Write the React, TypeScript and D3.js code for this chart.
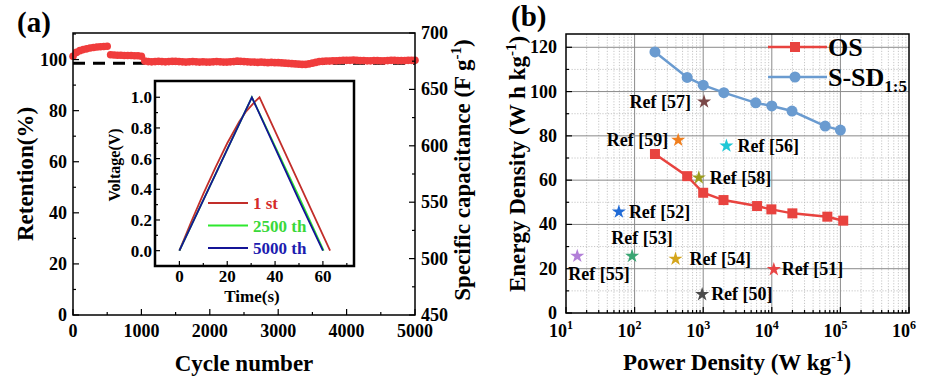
import * as d3 from "d3";

// ---- panel (a): cycling retention ----
const cycleNumbers = [
  0, 50, 100, 150, 200, 250, 300, 350, 400, 450, 500, 550, 600, 650, 700, 750, 800, 850, 900, 950,
  1000, 1050, 1100, 1150, 1200, 1250, 1300, 1350, 1400, 1450, 1500, 1550, 1600, 1650, 1700, 1750,
  1800, 1850, 1900, 1950, 2000, 2050, 2100, 2150, 2200, 2250, 2300, 2350, 2400, 2450, 2500, 2550,
  2600, 2650, 2700, 2750, 2800, 2850, 2900, 2950, 3000, 3050, 3100, 3150, 3200, 3250, 3300, 3350,
  3400, 3450, 3500, 3550, 3600, 3650, 3700, 3750, 3800, 3850, 3900, 3950, 4000, 4050, 4100, 4150,
  4200, 4250, 4300, 4350, 4400, 4450, 4500, 4550, 4600, 4650, 4700, 4750, 4800, 4850, 4900, 4950, 5000,
];
const retention = [
  101.3, 102.8, 103.5, 103.9, 104.2, 104.5, 104.7, 104.9, 105.0, 105.1, 105.2, 101.9, 101.8, 101.7,
  101.7, 101.6, 101.6, 101.6, 101.5, 101.5, 101.3, 99.4, 99.2, 99.1, 99.2, 99.3, 99.2, 99.1, 99.2,
  99.3, 99.3, 99.2, 99.1, 99.0, 99.1, 99.2, 99.1, 99.0, 99.1, 99.0, 99.0, 99.1, 99.2, 99.1, 99.0,
  99.0, 99.1, 99.2, 99.4, 99.3, 99.2, 99.1, 99.0, 99.0, 98.9, 99.0, 98.9, 98.8, 98.9, 98.8, 98.8,
  98.7, 98.6, 98.5, 98.4, 98.3, 98.2, 98.1, 98.1, 98.3, 98.6, 98.9, 99.2, 99.3, 99.4, 99.4, 99.5,
  99.5, 99.6, 99.7, 99.7, 99.7, 99.8, 99.7, 99.6, 99.6, 99.5, 99.5, 99.6, 99.6, 99.5, 99.5, 99.6,
  99.7, 99.7, 99.6, 99.6, 99.6, 99.7, 99.7, 99.7,
];
const retentionRef = 98.6;

// inset: galvanostatic charge/discharge
const gcdNames = ["1 st", "2500 th", "5000 th"];
const timeFirst = [0, 5, 10, 15, 20, 25, 28, 31.5, 33.5, 40, 50, 63];
const voltFirst = [0, 0.19, 0.37, 0.54, 0.7, 0.84, 0.91, 0.97, 1.0, 0.78, 0.44, 0];
const time2500 = [0, 10, 20, 30.3, 40, 50, 60.3];
const volt2500 = [0, 0.33, 0.66, 1.0, 0.68, 0.35, 0];
const time5000 = [0, 10, 20, 30.3, 40, 50, 60];
const volt5000 = [0, 0.33, 0.66, 1.0, 0.67, 0.33, 0];

// ---- panel (b): Ragone plot ----
const powerOS = [198, 584, 1000, 1977, 6100, 9860, 19950, 64500, 110000];
const energyOS = [71.8, 61.8, 54.3, 51.0, 48.3, 46.8, 45.0, 43.5, 41.7];
const powerSSD = [198, 584, 1000, 2000, 5830, 10000, 19700, 60000, 100000];
const energySSD = [117.9, 106.4, 102.9, 99.5, 94.9, 93.5, 91.2, 84.4, 82.6];
const refLabels = ["Ref [50]", "Ref [51]", "Ref [52]", "Ref [53]", "Ref [54]", "Ref [55]", "Ref [56]", "Ref [57]", "Ref [58]", "Ref [59]"];
const refPower = [965, 10700, 59, 92, 395, 14.6, 2180, 1030, 863, 432];
const refEnergy = [8.4, 19.7, 45.7, 25.7, 24.4, 25.7, 75.5, 95.4, 61.1, 78.1];

const FONT = '"Liberation Serif", "DejaVu Serif", serif';

const App = () => {
  // panel (a) frames
  const xA = d3.scaleLinear().domain([0, 5000]).range([73, 415]);
  const yA = d3.scaleLinear().domain([0, 110.4]).range([315, 33]);
  const yA2 = d3.scaleLinear().domain([450, 700]).range([315, 33]);
  // inset
  const xI = d3.scaleLinear().domain([-10.2, 73]).range([155, 354]);
  const yI = d3.scaleLinear().domain([-0.1, 1.106]).range([266, 81]);
  // panel (b)
  const xB = d3.scaleLog().domain([10, 1e6]).range([566, 909]);
  const yB = d3.scaleLinear().domain([0, 126]).range([313, 34]);

  const gcdSeries = [
    { t: timeFirst, v: voltFirst, line: "#c22e2a", text: "#d42a2a" },
    { t: time2500, v: volt2500, line: "#2ee82e", text: "#3ad83a" },
    { t: time5000, v: volt5000, line: "#141496", text: "#1c1cb0" },
  ];
  const gcdLine = d3.line<[number, number]>().x((d) => xI(d[0])).y((d) => yI(d[1]));

  const osLine = d3.line<number>().x((d, i) => xB(powerOS[i])).y((d) => yB(d));
  const ssdLine = d3.line<number>().x((d, i) => xB(powerSSD[i])).y((d) => yB(d));

  const starPath = d3.symbol().type(d3.symbolStar).size(62)() as string;
  const refColors = ["#4b4b4b", "#e84545", "#1f6ad6", "#3aa673", "#d4a51c", "#b27fd8", "#1fc8d6", "#7a4848", "#9c9c1e", "#f07f1e"];
  // label offsets [dx, dy, anchor] relative to each star
  const refPlace: [number, number, string][] = [
    [9, 6, "start"], [8, 6, "start"], [10, 6, "start"], [10, -12, "middle"], [14, 6, "start"],
    [-9, 24, "start"], [11, 6, "start"], [-13, 6, "end"], [11, 6, "start"], [-10, 6, "end"],
  ];

  const majorA = xA.ticks(5);
  const minorA = xA.ticks(10).filter((t) => !majorA.includes(t));
  const yMajorA = d3.range(0, 101, 20);
  const yMinorA = d3.range(10, 111, 20);
  const y2Major = yA2.ticks(5);
  const y2Minor = d3.range(475, 700, 50);

  const xBTicks = xB.ticks();
  const isDecade = (t: number) => Math.abs(Math.log10(t) - Math.round(Math.log10(t))) < 1e-6;
  const yBMajor = d3.range(0, 121, 20);
  const yBMinor = d3.range(10, 121, 20);

  return (
    <svg
      width={928}
      height={387}
      style={{ position: "absolute", left: 0, top: 0, background: "#fff", fontFamily: FONT, fontWeight: 700 }}
    >
      <rect width={928} height={387} fill="#fff" />

      {/* ================= panel (a) ================= */}
      <text x={17} y={32} fontSize={29}>(a)</text>

      {/* dashed reference and retention scatter */}
      <line x1={xA(0)} x2={xA(5000)} y1={yA(retentionRef)} y2={yA(retentionRef)} stroke="#000" strokeWidth={3} strokeDasharray="12,8" />
      <g fill="#f03c3c">
        {retention.map((r, i) => (
          <circle key={i} cx={xA(cycleNumbers[i])} cy={yA(r)} r={3.8} />
        ))}
      </g>
      <rect x={73} y={33} width={342} height={282} fill="none" stroke="#000" strokeWidth={1.5} />

      {/* ticks (inward) */}
      <g stroke="#000" strokeWidth={1.2}>
        {majorA.map((t) => <line key={"xm" + t} x1={xA(t)} x2={xA(t)} y1={315} y2={309} />)}
        {minorA.map((t) => <line key={"xn" + t} x1={xA(t)} x2={xA(t)} y1={315} y2={312} />)}
        {yMajorA.map((t) => <line key={"ym" + t} x1={73} x2={79} y1={yA(t)} y2={yA(t)} />)}
        {yMinorA.map((t) => <line key={"yn" + t} x1={73} x2={76} y1={yA(t)} y2={yA(t)} />)}
        {y2Major.map((t) => <line key={"rm" + t} x1={415} x2={409} y1={yA2(t)} y2={yA2(t)} />)}
        {y2Minor.map((t) => <line key={"rn" + t} x1={415} x2={412} y1={yA2(t)} y2={yA2(t)} />)}
      </g>
      <g fontSize={18} textAnchor="middle">
        {majorA.map((t) => <text key={t} x={xA(t)} y={337}>{t}</text>)}
      </g>
      <g fontSize={18} textAnchor="end">
        {yMajorA.map((t) => <text key={t} x={67} y={yA(t) + 6}>{t}</text>)}
      </g>
      <g fontSize={18} textAnchor="start">
        {y2Major.map((t) => <text key={t} x={421} y={yA2(t) + 6}>{t}</text>)}
      </g>
      <text x={244} y={371} fontSize={23} textAnchor="middle">Cycle number</text>
      <text transform="translate(33,174) rotate(-90)" fontSize={23} textAnchor="middle">Retention(%)</text>
      <text transform="translate(470,170) rotate(-90)" fontSize={23} textAnchor="middle">
        Specific capacitance (F g<tspan dy={-9} fontSize={15}>-1</tspan><tspan dy={9}>)</tspan>
      </text>

      {/* ---- inset ---- */}
      <rect x={155} y={81} width={199} height={185} fill="#fff" />
      {gcdSeries.map((s, k) => (
        <path
          key={k}
          d={gcdLine(s.t.map((t, i) => [t, s.v[i]] as [number, number])) as string}
          fill="none"
          stroke={s.line}
          strokeWidth={1.8}
        />
      ))}
      <rect x={155} y={81} width={199} height={185} fill="none" stroke="#000" strokeWidth={2.5} />
      <g stroke="#000" strokeWidth={1.2}>
        {d3.range(0, 61, 20).map((t) => <line key={"im" + t} x1={xI(t)} x2={xI(t)} y1={266} y2={261} />)}
        {d3.range(10, 71, 20).map((t) => <line key={"in" + t} x1={xI(t)} x2={xI(t)} y1={266} y2={263} />)}
        {d3.range(0, 1.01, 0.2).map((t) => <line key={"iym" + t} x1={155} x2={160} y1={yI(t)} y2={yI(t)} />)}
        {d3.range(0.1, 1.01, 0.2).map((t) => <line key={"iyn" + t} x1={155} x2={158} y1={yI(t)} y2={yI(t)} />)}
      </g>
      <g fontSize={17} textAnchor="middle">
        {d3.range(0, 61, 20).map((t) => <text key={t} x={xI(t)} y={282}>{t}</text>)}
      </g>
      <g fontSize={17} textAnchor="end">
        {d3.range(0, 1.01, 0.2).map((t) => <text key={t} x={152} y={yI(t) + 6}>{t.toFixed(1)}</text>)}
      </g>
      <text x={252} y={302} fontSize={17} textAnchor="middle">Time(s)</text>
      <text transform="translate(120,165) rotate(-90)" fontSize={16} textAnchor="middle">Voltage(V)</text>
      {gcdSeries.map((s, k) => (
        <g key={k}>
          <line x1={208} x2={248} y1={203 + k * 22.5} y2={203 + k * 22.5} stroke={s.line} strokeWidth={2.2} />
          <text x={253} y={209 + k * 22.5} fontSize={17} fill={s.text}>{gcdNames[k]}</text>
        </g>
      ))}

      {/* ================= panel (b) ================= */}
      <text x={511} y={26} fontSize={29}>(b)</text>

      {/* grid */}
      <g>
        {xBTicks.filter((t) => !isDecade(t)).map((t) => (
          <line key={"gv" + t} x1={xB(t)} x2={xB(t)} y1={34} y2={313} stroke="#b8b8b8" strokeWidth={0.8} strokeDasharray="1.2,1.6" />
        ))}
        {yBMinor.map((t) => (
          <line key={"gh" + t} x1={566} x2={909} y1={yB(t)} y2={yB(t)} stroke="#b8b8b8" strokeWidth={0.8} strokeDasharray="1.2,1.6" />
        ))}
        {xBTicks.filter((t) => isDecade(t) && t > 10 && t < 1e6).map((t) => (
          <line key={"GV" + t} x1={xB(t)} x2={xB(t)} y1={34} y2={313} stroke="#8a8a8a" strokeWidth={1} />
        ))}
        {yBMajor.filter((t) => t > 0).map((t) => (
          <line key={"GH" + t} x1={566} x2={909} y1={yB(t)} y2={yB(t)} stroke="#8a8a8a" strokeWidth={1} />
        ))}
      </g>

      {/* series */}
      <path d={osLine(energyOS) as string} fill="none" stroke="#e8433f" strokeWidth={2.5} />
      {energyOS.map((e, i) => (
        <rect key={i} x={xB(powerOS[i]) - 5} y={yB(e) - 5} width={10} height={10} fill="#e8433f" />
      ))}
      <path d={ssdLine(energySSD) as string} fill="none" stroke="#6a9bd0" strokeWidth={2.5} />
      {energySSD.map((e, i) => (
        <circle key={i} cx={xB(powerSSD[i])} cy={yB(e)} r={5.5} fill="#6a9bd0" />
      ))}

      {/* reference stars */}
      {refLabels.map((lab, i) => {
        const x = xB(refPower[i]);
        const y = yB(refEnergy[i]);
        const [dx, dy, anchor] = refPlace[i];
        return (
          <g key={lab}>
            <path d={starPath} transform={`translate(${x},${y})`} fill={refColors[i]} />
            <text x={x + dx} y={y + dy} fontSize={18} textAnchor={anchor}>{lab}</text>
          </g>
        );
      })}

      <rect x={566} y={34} width={343} height={279} fill="none" stroke="#000" strokeWidth={1.5} />
      <g stroke="#000" strokeWidth={1.2}>
        {xBTicks.map((t) => (
          <line key={"bt" + t} x1={xB(t)} x2={xB(t)} y1={313} y2={isDecade(t) ? 307 : 310} />
        ))}
        {yBMajor.map((t) => <line key={"bl" + t} x1={566} x2={572} y1={yB(t)} y2={yB(t)} />)}
        {yBMinor.map((t) => <line key={"bn" + t} x1={566} x2={569} y1={yB(t)} y2={yB(t)} />)}
      </g>
      <g fontSize={18} textAnchor="end">
        {yBMajor.map((t) => <text key={t} x={557} y={yB(t) + 6}>{t}</text>)}
      </g>
      <g fontSize={18}>
        {xBTicks.filter(isDecade).map((t) => (
          <text key={t} x={xB(t) - 5} y={337} textAnchor="middle">
            10<tspan dy={-8} fontSize={12}>{Math.round(Math.log10(t))}</tspan>
          </text>
        ))}
      </g>
      <text x={737} y={370} fontSize={23} textAnchor="middle">
        Power Density (W kg<tspan dy={-9} fontSize={15}>-1</tspan><tspan dy={9}>)</tspan>
      </text>
      <text transform="translate(525,164) rotate(-90)" fontSize={23} textAnchor="middle">
        Energy Density (W h kg<tspan dy={-9} fontSize={15}>-1</tspan><tspan dy={9}>)</tspan>
      </text>

      {/* legend */}
      <line x1={768} x2={827} y1={47} y2={47} stroke="#e8433f" strokeWidth={2.5} />
      <rect x={790} y={42} width={10} height={10} fill="#e8433f" />
      <text x={828} y={56} fontSize={26}>OS</text>
      <line x1={768} x2={827} y1={77} y2={77} stroke="#6a9bd0" strokeWidth={2.5} />
      <circle cx={795} cy={77} r={5.5} fill="#6a9bd0" />
      <text x={828} y={86} fontSize={26}>
        S-SD<tspan dy={6} fontSize={17}>1:5</tspan>
      </text>
    </svg>
  );
};

export default App;
